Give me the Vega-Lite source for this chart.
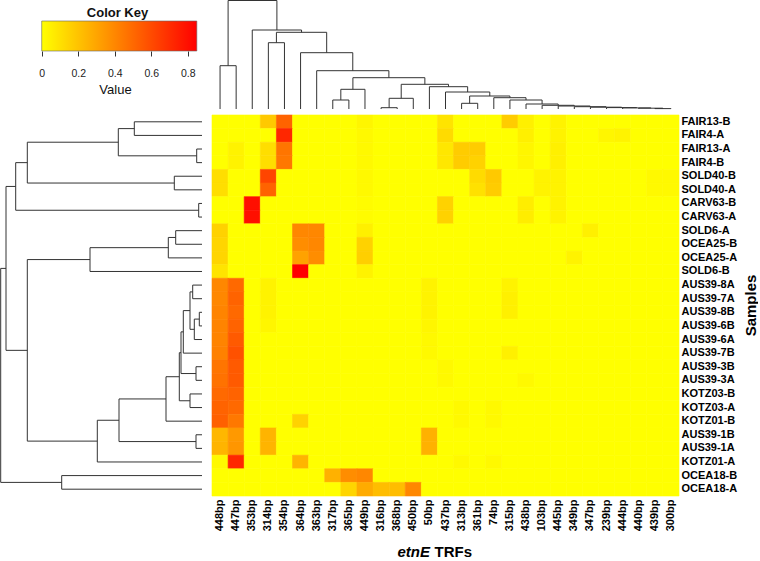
{
  "$schema": "https://vega.github.io/schema/vega-lite/v6.json",
  "padding": 0,
  "background": "white",
  "config": {
    "view": {"stroke": null},
    "font": "Liberation Sans",
    "axis": {"labelFont": "Liberation Sans", "titleFont": "Liberation Sans"},
    "title": {"font": "Liberation Sans"}
  },
  "columns": 2,
  "spacing": {"row": 4, "column": 8},
  "bounds": "full",
  "datasets": {
    "key": [{"lo": 0, "hi": 0.85}],
    "top": [
      {"xl": 0, "xr": 1, "hl": 0, "hr": 0, "h": 43.3},
      {"xl": 3, "xr": 4, "hl": 0, "hr": 0, "h": 66.3},
      {"xl": 7, "xr": 8, "hl": 0, "hr": 0, "h": 9},
      {"xl": 7.5, "xr": 9, "hl": 9, "hr": 0, "h": 19.7},
      {"xl": 10, "xr": 11, "hl": 0, "hr": 0, "h": 1.3},
      {"xl": 10.5, "xr": 12, "hl": 1.3, "hr": 0, "h": 10.7},
      {"xl": 15, "xr": 16, "hl": 0, "hr": 0, "h": 5.7},
      {"xl": 27, "xr": 28, "hl": 0, "hr": 0, "h": 0.4},
      {"xl": 26, "xr": 27.5, "hl": 0, "hr": 0.4, "h": 0.8},
      {"xl": 25, "xr": 26.75, "hl": 0, "hr": 0.8, "h": 1.1},
      {"xl": 24, "xr": 25.875, "hl": 0, "hr": 1.1, "h": 1.4},
      {"xl": 23, "xr": 24.9375, "hl": 0, "hr": 1.4, "h": 1.8},
      {"xl": 22, "xr": 23.9688, "hl": 0, "hr": 1.8, "h": 2.3},
      {"xl": 21, "xr": 22.9844, "hl": 0, "hr": 2.3, "h": 3.0},
      {"xl": 20, "xr": 21.9922, "hl": 0, "hr": 3.0, "h": 3.7},
      {"xl": 19, "xr": 20.9961, "hl": 0, "hr": 3.7, "h": 5.0},
      {"xl": 18, "xr": 19.998, "hl": 0, "hr": 5.0, "h": 9.0},
      {"xl": 17, "xr": 18.999, "hl": 0, "hr": 9.0, "h": 11.3},
      {"xl": 15.5, "xr": 17.9995, "hl": 5.7, "hr": 11.3, "h": 13},
      {"xl": 14, "xr": 16.7498, "hl": 0, "hr": 13, "h": 17},
      {"xl": 13, "xr": 15.3749, "hl": 0, "hr": 17, "h": 22.3},
      {"xl": 11.25, "xr": 14.1874, "hl": 10.7, "hr": 22.3, "h": 24.7},
      {"xl": 8.25, "xr": 12.7187, "hl": 19.7, "hr": 24.7, "h": 31.3},
      {"xl": 6, "xr": 10.4844, "hl": 0, "hr": 31.3, "h": 38.3},
      {"xl": 5, "xr": 8.2422, "hl": 0, "hr": 38.3, "h": 56.3},
      {"xl": 3.5, "xr": 6.6211, "hl": 66.3, "hr": 56.3, "h": 76.7},
      {"xl": 2, "xr": 5.0605, "hl": 0, "hr": 76.7, "h": 79},
      {"xl": 0.5, "xr": 3.5303, "hl": 43.3, "hr": 79, "h": 108.5}
    ],
    "left": [
      {"yl": 0, "yr": 1, "hl": 0, "hr": 0, "h": 67.7},
      {"yl": 2, "yr": 3, "hl": 0, "hr": 0, "h": 5.3},
      {"yl": 0.5, "yr": 2.5, "hl": 67.7, "hr": 5.3, "h": 83.7},
      {"yl": 4, "yr": 5, "hl": 0, "hr": 0, "h": 27.7},
      {"yl": 1.5, "yr": 4.5, "hl": 83.7, "hr": 27.7, "h": 174.7},
      {"yl": 6, "yr": 7, "hl": 0, "hr": 0, "h": 3.3},
      {"yl": 3, "yr": 6.5, "hl": 174.7, "hr": 3.3, "h": 186.3},
      {"yl": 8, "yr": 9, "hl": 0, "hr": 0, "h": 26.3},
      {"yl": 8.5, "yr": 10, "hl": 26.3, "hr": 0, "h": 33.7},
      {"yl": 9.25, "yr": 11, "hl": 33.7, "hr": 0, "h": 112},
      {"yl": 12, "yr": 13, "hl": 0, "hr": 0, "h": 9.3},
      {"yl": 14, "yr": 15, "hl": 0, "hr": 0, "h": 2.7},
      {"yl": 14.5, "yr": 16, "hl": 2.7, "hr": 0, "h": 7.7},
      {"yl": 12.5, "yr": 15.25, "hl": 9.3, "hr": 7.7, "h": 12},
      {"yl": 13.875, "yr": 17, "hl": 12, "hr": 0, "h": 18.7},
      {"yl": 18, "yr": 19, "hl": 0, "hr": 0, "h": 6},
      {"yl": 15.4375, "yr": 18.5, "hl": 18.7, "hr": 6, "h": 21},
      {"yl": 20, "yr": 21, "hl": 0, "hr": 0, "h": 12},
      {"yl": 16.9688, "yr": 20.5, "hl": 21, "hr": 12, "h": 22.7},
      {"yl": 18.7344, "yr": 22, "hl": 22.7, "hr": 0, "h": 36},
      {"yl": 23, "yr": 24, "hl": 0, "hr": 0, "h": 6},
      {"yl": 20.3672, "yr": 23.5, "hl": 36, "hr": 6, "h": 83},
      {"yl": 21.9336, "yr": 25, "hl": 83, "hr": 0, "h": 104.7},
      {"yl": 10.125, "yr": 23.4668, "hl": 112, "hr": 104.7, "h": 174.7},
      {"yl": 4.75, "yr": 16.7959, "hl": 186.3, "hr": 174.7, "h": 196},
      {"yl": 26, "yr": 27, "hl": 0, "hr": 0, "h": 140.3},
      {"yl": 10.7729, "yr": 26.5, "hl": 196, "hr": 140.3, "h": 201.3}
    ],
    "heat": [
      {"sample": "FAIR13-B", "448bp": 0, "447bp": 0, "353bp": 0, "314bp": 0.18, "354bp": 0.52, "364bp": 0, "363bp": 0, "317bp": 0, "365bp": 0, "449bp": 0.03, "316bp": 0, "368bp": 0, "450bp": 0, "50bp": 0, "437bp": 0.09, "313bp": 0, "361bp": 0, "74bp": 0, "315bp": 0.17, "438bp": 0.05, "103bp": 0, "445bp": 0.04, "349bp": 0, "347bp": 0, "239bp": 0, "444bp": 0, "440bp": 0, "439bp": 0, "300bp": 0},
      {"sample": "FAIR4-A", "448bp": 0, "447bp": 0, "353bp": 0, "314bp": 0, "354bp": 0.72, "364bp": 0, "363bp": 0, "317bp": 0, "365bp": 0, "449bp": 0.02, "316bp": 0, "368bp": 0, "450bp": 0, "50bp": 0, "437bp": 0.12, "313bp": 0, "361bp": 0, "74bp": 0, "315bp": 0, "438bp": 0.05, "103bp": 0, "445bp": 0.04, "349bp": 0, "347bp": 0, "239bp": 0.03, "444bp": 0.04, "440bp": 0, "439bp": 0, "300bp": 0},
      {"sample": "FAIR13-A", "448bp": 0, "447bp": 0.04, "353bp": 0, "314bp": 0.11, "354bp": 0.46, "364bp": 0, "363bp": 0, "317bp": 0, "365bp": 0, "449bp": 0.02, "316bp": 0, "368bp": 0, "450bp": 0, "50bp": 0, "437bp": 0.08, "313bp": 0.17, "361bp": 0.17, "74bp": 0, "315bp": 0, "438bp": 0.03, "103bp": 0, "445bp": 0.05, "349bp": 0, "347bp": 0, "239bp": 0, "444bp": 0, "440bp": 0, "439bp": 0, "300bp": 0},
      {"sample": "FAIR4-B", "448bp": 0, "447bp": 0.04, "353bp": 0, "314bp": 0.11, "354bp": 0.45, "364bp": 0, "363bp": 0, "317bp": 0, "365bp": 0, "449bp": 0.02, "316bp": 0, "368bp": 0, "450bp": 0, "50bp": 0, "437bp": 0.08, "313bp": 0.17, "361bp": 0.15, "74bp": 0, "315bp": 0, "438bp": 0.03, "103bp": 0, "445bp": 0.05, "349bp": 0, "347bp": 0, "239bp": 0, "444bp": 0, "440bp": 0, "439bp": 0, "300bp": 0},
      {"sample": "SOLD40-B", "448bp": 0.11, "447bp": 0, "353bp": 0, "314bp": 0.62, "354bp": 0, "364bp": 0, "363bp": 0, "317bp": 0, "365bp": 0, "449bp": 0.02, "316bp": 0, "368bp": 0, "450bp": 0, "50bp": 0, "437bp": 0, "313bp": 0, "361bp": 0.12, "74bp": 0.18, "315bp": 0, "438bp": 0, "103bp": 0.04, "445bp": 0.04, "349bp": 0, "347bp": 0, "239bp": 0, "444bp": 0, "440bp": 0, "439bp": 0.02, "300bp": 0.02},
      {"sample": "SOLD40-A", "448bp": 0.11, "447bp": 0, "353bp": 0, "314bp": 0.52, "354bp": 0, "364bp": 0, "363bp": 0, "317bp": 0, "365bp": 0, "449bp": 0.02, "316bp": 0, "368bp": 0, "450bp": 0, "50bp": 0, "437bp": 0, "313bp": 0, "361bp": 0.1, "74bp": 0.17, "315bp": 0, "438bp": 0, "103bp": 0.04, "445bp": 0.04, "349bp": 0, "347bp": 0, "239bp": 0, "444bp": 0, "440bp": 0, "439bp": 0.02, "300bp": 0.02},
      {"sample": "CARV63-B", "448bp": 0, "447bp": 0, "353bp": 0.8, "314bp": 0, "354bp": 0, "364bp": 0, "363bp": 0, "317bp": 0, "365bp": 0, "449bp": 0.01, "316bp": 0, "368bp": 0, "450bp": 0, "50bp": 0, "437bp": 0.15, "313bp": 0, "361bp": 0, "74bp": 0, "315bp": 0, "438bp": 0.06, "103bp": 0, "445bp": 0.04, "349bp": 0, "347bp": 0, "239bp": 0, "444bp": 0, "440bp": 0, "439bp": 0, "300bp": 0},
      {"sample": "CARV63-A", "448bp": 0, "447bp": 0, "353bp": 0.8, "314bp": 0, "354bp": 0, "364bp": 0, "363bp": 0, "317bp": 0, "365bp": 0, "449bp": 0.01, "316bp": 0, "368bp": 0, "450bp": 0, "50bp": 0, "437bp": 0.15, "313bp": 0, "361bp": 0, "74bp": 0, "315bp": 0, "438bp": 0.06, "103bp": 0, "445bp": 0.04, "349bp": 0, "347bp": 0, "239bp": 0, "444bp": 0, "440bp": 0, "439bp": 0, "300bp": 0},
      {"sample": "SOLD6-A", "448bp": 0.15, "447bp": 0, "353bp": 0, "314bp": 0, "354bp": 0, "364bp": 0.4, "363bp": 0.4, "317bp": 0, "365bp": 0, "449bp": 0.05, "316bp": 0, "368bp": 0, "450bp": 0, "50bp": 0, "437bp": 0, "313bp": 0, "361bp": 0, "74bp": 0, "315bp": 0, "438bp": 0, "103bp": 0, "445bp": 0, "349bp": 0, "347bp": 0.05, "239bp": 0, "444bp": 0, "440bp": 0, "439bp": 0, "300bp": 0},
      {"sample": "OCEA25-B", "448bp": 0.14, "447bp": 0, "353bp": 0, "314bp": 0, "354bp": 0, "364bp": 0.38, "363bp": 0.4, "317bp": 0, "365bp": 0, "449bp": 0.15, "316bp": 0, "368bp": 0, "450bp": 0, "50bp": 0, "437bp": 0, "313bp": 0, "361bp": 0, "74bp": 0, "315bp": 0, "438bp": 0, "103bp": 0, "445bp": 0, "349bp": 0, "347bp": 0, "239bp": 0, "444bp": 0, "440bp": 0, "439bp": 0, "300bp": 0},
      {"sample": "OCEA25-A", "448bp": 0.14, "447bp": 0, "353bp": 0, "314bp": 0, "354bp": 0, "364bp": 0.31, "363bp": 0.38, "317bp": 0, "365bp": 0, "449bp": 0.16, "316bp": 0, "368bp": 0, "450bp": 0, "50bp": 0, "437bp": 0, "313bp": 0, "361bp": 0, "74bp": 0, "315bp": 0, "438bp": 0, "103bp": 0, "445bp": 0, "349bp": 0.04, "347bp": 0, "239bp": 0, "444bp": 0, "440bp": 0, "439bp": 0, "300bp": 0},
      {"sample": "SOLD6-B", "448bp": 0.09, "447bp": 0, "353bp": 0, "314bp": 0, "354bp": 0, "364bp": 0.85, "363bp": 0, "317bp": 0, "365bp": 0, "449bp": 0.04, "316bp": 0, "368bp": 0, "450bp": 0, "50bp": 0, "437bp": 0, "313bp": 0, "361bp": 0, "74bp": 0, "315bp": 0, "438bp": 0, "103bp": 0, "445bp": 0, "349bp": 0, "347bp": 0, "239bp": 0, "444bp": 0, "440bp": 0, "439bp": 0, "300bp": 0},
      {"sample": "AUS39-8A", "448bp": 0.4, "447bp": 0.5, "353bp": 0, "314bp": 0.04, "354bp": 0, "364bp": 0, "363bp": 0, "317bp": 0, "365bp": 0, "449bp": 0, "316bp": 0, "368bp": 0, "450bp": 0, "50bp": 0.04, "437bp": 0, "313bp": 0, "361bp": 0, "74bp": 0, "315bp": 0.04, "438bp": 0, "103bp": 0, "445bp": 0, "349bp": 0, "347bp": 0, "239bp": 0, "444bp": 0, "440bp": 0, "439bp": 0, "300bp": 0},
      {"sample": "AUS39-7A", "448bp": 0.4, "447bp": 0.52, "353bp": 0, "314bp": 0.04, "354bp": 0, "364bp": 0, "363bp": 0, "317bp": 0, "365bp": 0, "449bp": 0, "316bp": 0, "368bp": 0, "450bp": 0, "50bp": 0.04, "437bp": 0, "313bp": 0, "361bp": 0, "74bp": 0, "315bp": 0.05, "438bp": 0, "103bp": 0, "445bp": 0, "349bp": 0, "347bp": 0, "239bp": 0, "444bp": 0, "440bp": 0, "439bp": 0, "300bp": 0},
      {"sample": "AUS39-8B", "448bp": 0.41, "447bp": 0.5, "353bp": 0, "314bp": 0.04, "354bp": 0, "364bp": 0, "363bp": 0, "317bp": 0, "365bp": 0, "449bp": 0, "316bp": 0, "368bp": 0, "450bp": 0, "50bp": 0.04, "437bp": 0, "313bp": 0, "361bp": 0, "74bp": 0, "315bp": 0.05, "438bp": 0, "103bp": 0, "445bp": 0, "349bp": 0, "347bp": 0, "239bp": 0, "444bp": 0, "440bp": 0, "439bp": 0, "300bp": 0},
      {"sample": "AUS39-6B", "448bp": 0.41, "447bp": 0.52, "353bp": 0, "314bp": 0.03, "354bp": 0, "364bp": 0, "363bp": 0, "317bp": 0, "365bp": 0, "449bp": 0, "316bp": 0, "368bp": 0, "450bp": 0, "50bp": 0.03, "437bp": 0, "313bp": 0, "361bp": 0, "74bp": 0, "315bp": 0, "438bp": 0, "103bp": 0, "445bp": 0, "349bp": 0, "347bp": 0, "239bp": 0, "444bp": 0, "440bp": 0, "439bp": 0, "300bp": 0},
      {"sample": "AUS39-6A", "448bp": 0.41, "447bp": 0.55, "353bp": 0, "314bp": 0, "354bp": 0, "364bp": 0, "363bp": 0, "317bp": 0, "365bp": 0, "449bp": 0, "316bp": 0, "368bp": 0, "450bp": 0, "50bp": 0.02, "437bp": 0, "313bp": 0, "361bp": 0, "74bp": 0, "315bp": 0, "438bp": 0, "103bp": 0, "445bp": 0, "349bp": 0, "347bp": 0, "239bp": 0, "444bp": 0, "440bp": 0, "439bp": 0, "300bp": 0},
      {"sample": "AUS39-7B", "448bp": 0.42, "447bp": 0.58, "353bp": 0, "314bp": 0, "354bp": 0, "364bp": 0, "363bp": 0, "317bp": 0, "365bp": 0, "449bp": 0, "316bp": 0, "368bp": 0, "450bp": 0, "50bp": 0.02, "437bp": 0, "313bp": 0, "361bp": 0, "74bp": 0, "315bp": 0.05, "438bp": 0, "103bp": 0, "445bp": 0, "349bp": 0, "347bp": 0, "239bp": 0, "444bp": 0, "440bp": 0, "439bp": 0, "300bp": 0},
      {"sample": "AUS39-3B", "448bp": 0.46, "447bp": 0.55, "353bp": 0, "314bp": 0, "354bp": 0, "364bp": 0, "363bp": 0, "317bp": 0, "365bp": 0, "449bp": 0, "316bp": 0, "368bp": 0, "450bp": 0, "50bp": 0, "437bp": 0.02, "313bp": 0, "361bp": 0, "74bp": 0, "315bp": 0, "438bp": 0, "103bp": 0, "445bp": 0, "349bp": 0, "347bp": 0, "239bp": 0, "444bp": 0, "440bp": 0, "439bp": 0, "300bp": 0},
      {"sample": "AUS39-3A", "448bp": 0.47, "447bp": 0.55, "353bp": 0, "314bp": 0, "354bp": 0, "364bp": 0, "363bp": 0, "317bp": 0, "365bp": 0, "449bp": 0, "316bp": 0, "368bp": 0, "450bp": 0, "50bp": 0, "437bp": 0.02, "313bp": 0, "361bp": 0, "74bp": 0, "315bp": 0, "438bp": 0.02, "103bp": 0, "445bp": 0, "349bp": 0, "347bp": 0, "239bp": 0, "444bp": 0, "440bp": 0, "439bp": 0, "300bp": 0},
      {"sample": "KOTZ03-B", "448bp": 0.5, "447bp": 0.52, "353bp": 0, "314bp": 0, "354bp": 0, "364bp": 0, "363bp": 0, "317bp": 0, "365bp": 0, "449bp": 0, "316bp": 0, "368bp": 0, "450bp": 0, "50bp": 0, "437bp": 0, "313bp": 0, "361bp": 0, "74bp": 0, "315bp": 0, "438bp": 0, "103bp": 0, "445bp": 0, "349bp": 0, "347bp": 0, "239bp": 0, "444bp": 0, "440bp": 0, "439bp": 0, "300bp": 0},
      {"sample": "KOTZ03-A", "448bp": 0.52, "447bp": 0.5, "353bp": 0, "314bp": 0, "354bp": 0, "364bp": 0, "363bp": 0, "317bp": 0, "365bp": 0, "449bp": 0, "316bp": 0, "368bp": 0, "450bp": 0, "50bp": 0, "437bp": 0, "313bp": 0.02, "361bp": 0, "74bp": 0.02, "315bp": 0, "438bp": 0, "103bp": 0, "445bp": 0, "349bp": 0, "347bp": 0, "239bp": 0, "444bp": 0, "440bp": 0, "439bp": 0, "300bp": 0},
      {"sample": "KOTZ01-B", "448bp": 0.53, "447bp": 0.45, "353bp": 0, "314bp": 0, "354bp": 0, "364bp": 0.15, "363bp": 0, "317bp": 0, "365bp": 0, "449bp": 0, "316bp": 0, "368bp": 0, "450bp": 0, "50bp": 0, "437bp": 0, "313bp": 0.02, "361bp": 0, "74bp": 0.02, "315bp": 0, "438bp": 0, "103bp": 0, "445bp": 0, "349bp": 0, "347bp": 0, "239bp": 0, "444bp": 0, "440bp": 0, "439bp": 0, "300bp": 0},
      {"sample": "AUS39-1B", "448bp": 0.24, "447bp": 0.34, "353bp": 0, "314bp": 0.25, "354bp": 0, "364bp": 0, "363bp": 0, "317bp": 0, "365bp": 0, "449bp": 0, "316bp": 0, "368bp": 0, "450bp": 0, "50bp": 0.26, "437bp": 0, "313bp": 0, "361bp": 0, "74bp": 0, "315bp": 0, "438bp": 0, "103bp": 0, "445bp": 0, "349bp": 0, "347bp": 0, "239bp": 0, "444bp": 0, "440bp": 0, "439bp": 0, "300bp": 0},
      {"sample": "AUS39-1A", "448bp": 0.25, "447bp": 0.35, "353bp": 0, "314bp": 0.25, "354bp": 0, "364bp": 0, "363bp": 0, "317bp": 0, "365bp": 0, "449bp": 0, "316bp": 0, "368bp": 0, "450bp": 0, "50bp": 0.26, "437bp": 0, "313bp": 0, "361bp": 0, "74bp": 0, "315bp": 0, "438bp": 0, "103bp": 0, "445bp": 0, "349bp": 0, "347bp": 0, "239bp": 0, "444bp": 0, "440bp": 0, "439bp": 0, "300bp": 0},
      {"sample": "KOTZ01-A", "448bp": 0.02, "447bp": 0.72, "353bp": 0, "314bp": 0, "354bp": 0, "364bp": 0.25, "363bp": 0, "317bp": 0, "365bp": 0, "449bp": 0, "316bp": 0, "368bp": 0, "450bp": 0, "50bp": 0, "437bp": 0, "313bp": 0.02, "361bp": 0, "74bp": 0.02, "315bp": 0, "438bp": 0, "103bp": 0, "445bp": 0, "349bp": 0, "347bp": 0, "239bp": 0, "444bp": 0, "440bp": 0, "439bp": 0, "300bp": 0},
      {"sample": "OCEA18-B", "448bp": 0, "447bp": 0, "353bp": 0, "314bp": 0, "354bp": 0, "364bp": 0, "363bp": 0, "317bp": 0.26, "365bp": 0.38, "449bp": 0.4, "316bp": 0, "368bp": 0, "450bp": 0, "50bp": 0, "437bp": 0, "313bp": 0, "361bp": 0, "74bp": 0, "315bp": 0, "438bp": 0, "103bp": 0, "445bp": 0, "349bp": 0, "347bp": 0, "239bp": 0, "444bp": 0, "440bp": 0, "439bp": 0, "300bp": 0},
      {"sample": "OCEA18-A", "448bp": 0, "447bp": 0, "353bp": 0, "314bp": 0, "354bp": 0, "364bp": 0, "363bp": 0, "317bp": 0, "365bp": 0.14, "449bp": 0.28, "316bp": 0.22, "368bp": 0.22, "450bp": 0.4, "50bp": 0, "437bp": 0, "313bp": 0, "361bp": 0, "74bp": 0, "315bp": 0, "438bp": 0, "103bp": 0, "445bp": 0, "349bp": 0, "347bp": 0, "239bp": 0, "444bp": 0, "440bp": 0, "439bp": 0, "300bp": 0}
    ]
  },
  "concat": [
    {
      "width": 202,
      "height": 30,
      "data": {"name": "key"},
      "title": {"text": "Color Key", "fontSize": 13, "fontWeight": "bold", "anchor": "middle", "dx": 16.5, "offset": 1, "color": "#111"},
      "mark": {"type": "rect", "stroke": "#666", "strokeWidth": 0.6, "color": {"gradient": "linear", "x1": 0, "y1": 0, "x2": 1, "y2": 0, "stops": [{"offset": 0, "color": "#ffff00"}, {"offset": 1, "color": "#ff0000"}]}},
      "encoding": {
        "x": {"field": "lo", "type": "quantitative", "scale": {"domain": [-0.2285, 0.8784], "nice": false, "zero": false},
          "axis": {"values": [0, 0.2, 0.4, 0.6, 0.8], "format": ".1~f", "domain": false, "grid": false, "tickSize": 5, "tickColor": "#333", "labelFontSize": 10.5, "labelColor": "#222", "labelPadding": 12, "title": "Value", "titleFontSize": 13, "titleFontWeight": "normal", "titleColor": "#111", "titlePadding": 5, "titleX": 115, "titleAlign": "center"}},
        "x2": {"field": "hi"}
      }
    },
    {
      "width": 467,
      "height": 88,
      "data": {"name": "top"},
      "layer": [
        {"mark": {"type": "rule", "color": "#333", "strokeWidth": 1},
          "encoding": {
            "x": {"field": "xl", "type": "quantitative", "scale": {"domain": [-0.5, 28.5], "nice": false, "zero": false}, "axis": null},
            "x2": {"field": "xr"},
            "y": {"field": "h", "type": "quantitative", "scale": {"domain": [0, 88], "nice": false, "zero": false}, "axis": null}}},
        {"mark": {"type": "rule", "color": "#333", "strokeWidth": 1},
          "encoding": {
            "x": {"field": "xl", "type": "quantitative", "axis": null},
            "y": {"field": "hl", "type": "quantitative", "axis": null},
            "y2": {"field": "h"}}},
        {"mark": {"type": "rule", "color": "#333", "strokeWidth": 1},
          "encoding": {
            "x": {"field": "xr", "type": "quantitative", "axis": null},
            "y": {"field": "hr", "type": "quantitative", "axis": null},
            "y2": {"field": "h"}}}
      ]
    },
    {
      "width": 202,
      "height": 381,
      "data": {"name": "left"},
      "layer": [
        {"mark": {"type": "rule", "color": "#333", "strokeWidth": 1},
          "encoding": {
            "x": {"field": "h", "type": "quantitative", "scale": {"domain": [0, 202], "reverse": true, "nice": false, "zero": false}, "axis": null},
            "y": {"field": "yl", "type": "quantitative", "scale": {"domain": [-0.5, 27.5], "reverse": true, "nice": false, "zero": false}, "axis": null},
            "y2": {"field": "yr"}}},
        {"mark": {"type": "rule", "color": "#333", "strokeWidth": 1},
          "encoding": {
            "x": {"field": "hl", "type": "quantitative", "axis": null},
            "x2": {"field": "h"},
            "y": {"field": "yl", "type": "quantitative", "axis": null}}},
        {"mark": {"type": "rule", "color": "#333", "strokeWidth": 1},
          "encoding": {
            "x": {"field": "hr", "type": "quantitative", "axis": null},
            "x2": {"field": "h"},
            "y": {"field": "yr", "type": "quantitative", "axis": null}}}
      ]
    },
    {
      "width": 467,
      "height": 381,
      "data": {"name": "heat"},
      "transform": [
        {"fold": ["448bp", "447bp", "353bp", "314bp", "354bp", "364bp", "363bp", "317bp", "365bp", "449bp", "316bp", "368bp", "450bp", "50bp", "437bp", "313bp", "361bp", "74bp", "315bp", "438bp", "103bp", "445bp", "349bp", "347bp", "239bp", "444bp", "440bp", "439bp", "300bp"], "as": ["trf", "value"]}
      ],
      "layer": [
        {
          "mark": {"type": "rect", "strokeWidth": 0.6},
          "encoding": {
            "x": {"field": "trf", "type": "nominal", "sort": null, "scale": {"paddingInner": 0, "paddingOuter": 0},
              "axis": {"orient": "bottom", "labelAngle": 270, "labelFontSize": 11, "labelFontWeight": "bold", "labelColor": "#000", "labelPadding": 3, "ticks": false, "tickSize": 0, "domain": false, "labelOverlap": false,
                "title": "etnE", "titleFontSize": 15, "titleFontWeight": "bold", "titleFontStyle": "italic", "titleColor": "#000", "titleX": 185, "titleY": 60, "titleAlign": "left", "titleBaseline": "alphabetic"}},
            "y": {"field": "sample", "type": "nominal", "sort": null, "scale": {"paddingInner": 0, "paddingOuter": 0},
              "axis": {"orient": "right", "labelFontSize": 11, "labelFontWeight": "bold", "labelColor": "#000", "labelPadding": 2, "ticks": false, "tickSize": 0, "domain": false, "labelOverlap": false,
                "title": "Samples", "titleFontSize": 15, "titleFontWeight": "bold", "titleColor": "#000", "titleAngle": 270, "titleX": 71, "titleY": 190, "titleAlign": "center", "titleBaseline": "middle"}},
            "color": {"field": "value", "type": "quantitative", "scale": {"domain": [0, 0.85], "range": ["#ffff00", "#ff0000"], "interpolate": "rgb"}, "legend": null},
            "stroke": {"field": "value", "type": "quantitative", "scale": {"domain": [0, 0.85], "range": ["#ffff00", "#ff0000"], "interpolate": "rgb"}, "legend": null}
          }
        },
        {
          "mark": {"type": "rect", "opacity": 0},
          "encoding": {
            "x": {"field": "trf", "type": "nominal", "sort": null,
              "axis": {"orient": "bottom", "labels": false, "ticks": false, "tickSize": 0, "domain": false,
                "title": "TRFs", "titleFontSize": 15, "titleFontWeight": "bold", "titleColor": "#000", "titleX": 222, "titleY": 60, "titleAlign": "left", "titleBaseline": "alphabetic"}}
          }
        }
      ],
      "resolve": {"axis": {"x": "independent"}}
    }
  ]
}
